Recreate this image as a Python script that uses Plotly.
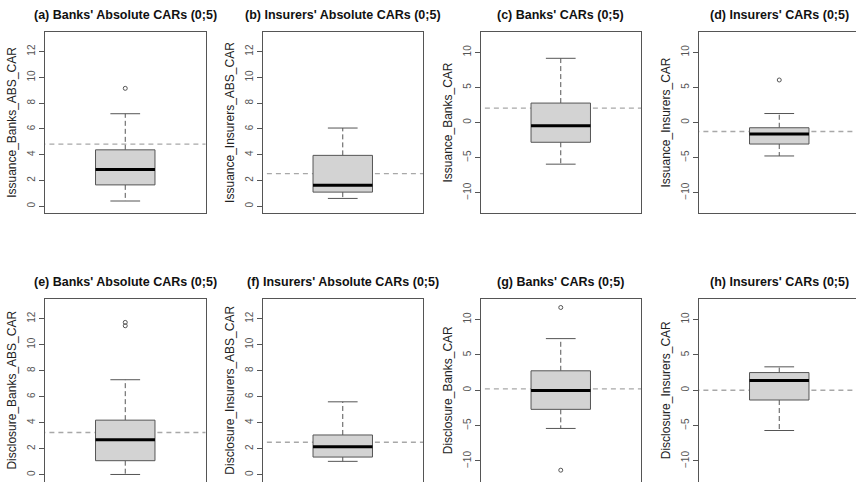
import plotly.graph_objects as go

# ---- data ----
panel_titles = [
    "(a) Banks' Absolute CARs (0;5)", "(b) Insurers' Absolute CARs (0;5)",
    "(c) Banks' CARs (0;5)", "(d) Insurers' CARs (0;5)",
    "(e) Banks' Absolute CARs (0;5)", "(f) Insurers' Absolute CARs (0;5)",
    "(g) Banks' CARs (0;5)", "(h) Insurers' CARs (0;5)",
]
y_titles = [
    "Issuance_Banks_ABS_CAR", "Issuance_Insurers_ABS_CAR",
    "Issuance_Banks_CAR", "Issuance_Insurers_CAR",
    "Disclosure_Banks_ABS_CAR", "Disclosure_Insurers_ABS_CAR",
    "Disclosure_Banks_CAR", "Disclosure_Insurers_CAR",
]
lower_whisker = [0.41, 0.61, -5.94, -4.77, 0.02, 1.03, -5.40, -5.69]
q1_values     = [1.66, 1.10, -2.82, -3.07, 1.08, 1.36, -2.70, -1.38]
median_values = [2.85, 1.64, -0.45, -1.65, 2.70, 2.16, -0.05, 1.37]
q3_values     = [4.38, 3.95, 2.77, -0.75, 4.20, 3.06, 2.75, 2.50]
upper_whisker = [7.18, 6.07, 9.15, 1.28, 7.31, 5.61, 7.30, 3.31]
outlier_values = [[9.15], [], [], [6.06], [11.72, 11.46], [], [11.70, -11.30], []]
reference_line = [4.82, 2.54, 2.06, -1.28, 3.25, 2.50, 0.19, 0.00]
abs_ticks = [0, 2, 4, 6, 8, 10, 12]
car_ticks = [-10, -5, 0, 5, 10]
is_abs_panel = [True, True, False, False, True, True, False, False]

# ---- layout geometry (pixels) ----
W, H = 856, 482
lefts = [45, 262.5, 480.5, 699]
pw = 160.5
rows = [(32, 213), (299, 481.5)]
X_RANGE = (0.46, 1.54)
BOX_HALF = 0.2
STAPLE_HALF = 0.1
GRAY = "#555555"

fig = go.Figure()
annotations = []

for i in range(8):
    r, c = divmod(i, 4)
    sfx = "" if i == 0 else str(i + 1)
    xa, ya = "x" + sfx, "y" + sfx
    x0 = lefts[c]
    x1 = x0 + pw
    xr = list(X_RANGE)
    if x1 > W:
        xr[1] = X_RANGE[0] + (X_RANGE[1] - X_RANGE[0]) * (W - x0) / pw
        x1 = W
    top, bot = rows[r]
    xdom = [x0 / W, x1 / W]
    ydom = [(H - bot) / H, (H - top) / H]

    if is_abs_panel[i]:
        yr, tv = [-0.52, 13.52], abs_ticks
    else:
        yr, tv = [-12.9, 12.9], car_ticks

    # reference dashed line
    fig.add_trace(go.Scatter(
        x=[X_RANGE[0] - 1, X_RANGE[1] + 1], y=[reference_line[i]] * 2,
        mode="lines", line=dict(color="#a8a8a8", width=1.3, dash="5px,4px"),
        xaxis=xa, yaxis=ya, showlegend=False, hoverinfo="skip"))
    # whiskers (dashed)
    fig.add_trace(go.Scatter(
        x=[1, 1, None, 1, 1],
        y=[q3_values[i], upper_whisker[i], None, q1_values[i], lower_whisker[i]],
        mode="lines", line=dict(color=GRAY, width=1, dash="5px,3px"),
        xaxis=xa, yaxis=ya, showlegend=False, hoverinfo="skip"))
    # staples
    fig.add_trace(go.Scatter(
        x=[1 - STAPLE_HALF, 1 + STAPLE_HALF, None, 1 - STAPLE_HALF, 1 + STAPLE_HALF],
        y=[upper_whisker[i]] * 2 + [None] + [lower_whisker[i]] * 2,
        mode="lines", line=dict(color=GRAY, width=1),
        xaxis=xa, yaxis=ya, showlegend=False, hoverinfo="skip"))
    # box body
    fig.add_trace(go.Scatter(
        x=[1 - BOX_HALF, 1 + BOX_HALF, 1 + BOX_HALF, 1 - BOX_HALF, 1 - BOX_HALF],
        y=[q1_values[i], q1_values[i], q3_values[i], q3_values[i], q1_values[i]],
        mode="lines", fill="toself", fillcolor="#d3d3d3",
        line=dict(color=GRAY, width=1),
        xaxis=xa, yaxis=ya, showlegend=False, hoverinfo="skip"))
    # median
    fig.add_trace(go.Scatter(
        x=[1 - BOX_HALF, 1 + BOX_HALF], y=[median_values[i]] * 2,
        mode="lines", line=dict(color="black", width=3),
        xaxis=xa, yaxis=ya, showlegend=False, hoverinfo="skip"))
    # outliers
    if outlier_values[i]:
        fig.add_trace(go.Scatter(
            x=[1] * len(outlier_values[i]), y=outlier_values[i], mode="markers",
            marker=dict(symbol="circle-open", size=4, color=GRAY, line=dict(width=1)),
            xaxis=xa, yaxis=ya, showlegend=False, hoverinfo="skip"))

    fig.layout["xaxis" + sfx] = dict(
        domain=xdom, range=xr, anchor=ya, showticklabels=False, ticks="",
        showgrid=False, zeroline=False, showline=True, mirror=True,
        linecolor=GRAY, linewidth=1)
    fig.layout["yaxis" + sfx] = dict(
        domain=ydom, range=yr, anchor=xa, tickvals=tv, tickangle=-90,
        ticks="outside", ticklen=5, tickcolor=GRAY, showgrid=False,
        zeroline=False, showline=True, mirror=True, linecolor=GRAY, linewidth=1,
        tickfont=dict(size=10, color="#555555"),
        title=dict(text=y_titles[i], font=dict(size=12, color="#222222"), standoff=6))

    annotations.append(dict(
        text="<b>" + panel_titles[i] + "</b>", x=(x0 + pw / 2) / W,
        y=(H - (top - 17)) / H, xref="paper", yref="paper",
        xanchor="center", yanchor="middle", showarrow=False,
        font=dict(size=12.5, color="#111111")))

fig.update_layout(
    width=W, height=H, margin=dict(l=0, r=0, t=0, b=0),
    paper_bgcolor="white", plot_bgcolor="white",
    font=dict(family="Liberation Sans, Arial, sans-serif"),
    annotations=annotations, showlegend=False)

fig.write_html(
    "out.html",
    config={"displayModeBar": False},
    post_script="document.documentElement.style.margin='0';"
                "document.documentElement.style.overflow='hidden';"
                "document.body.style.margin='0';document.body.style.padding='0';"
                "document.body.style.overflow='hidden';")
